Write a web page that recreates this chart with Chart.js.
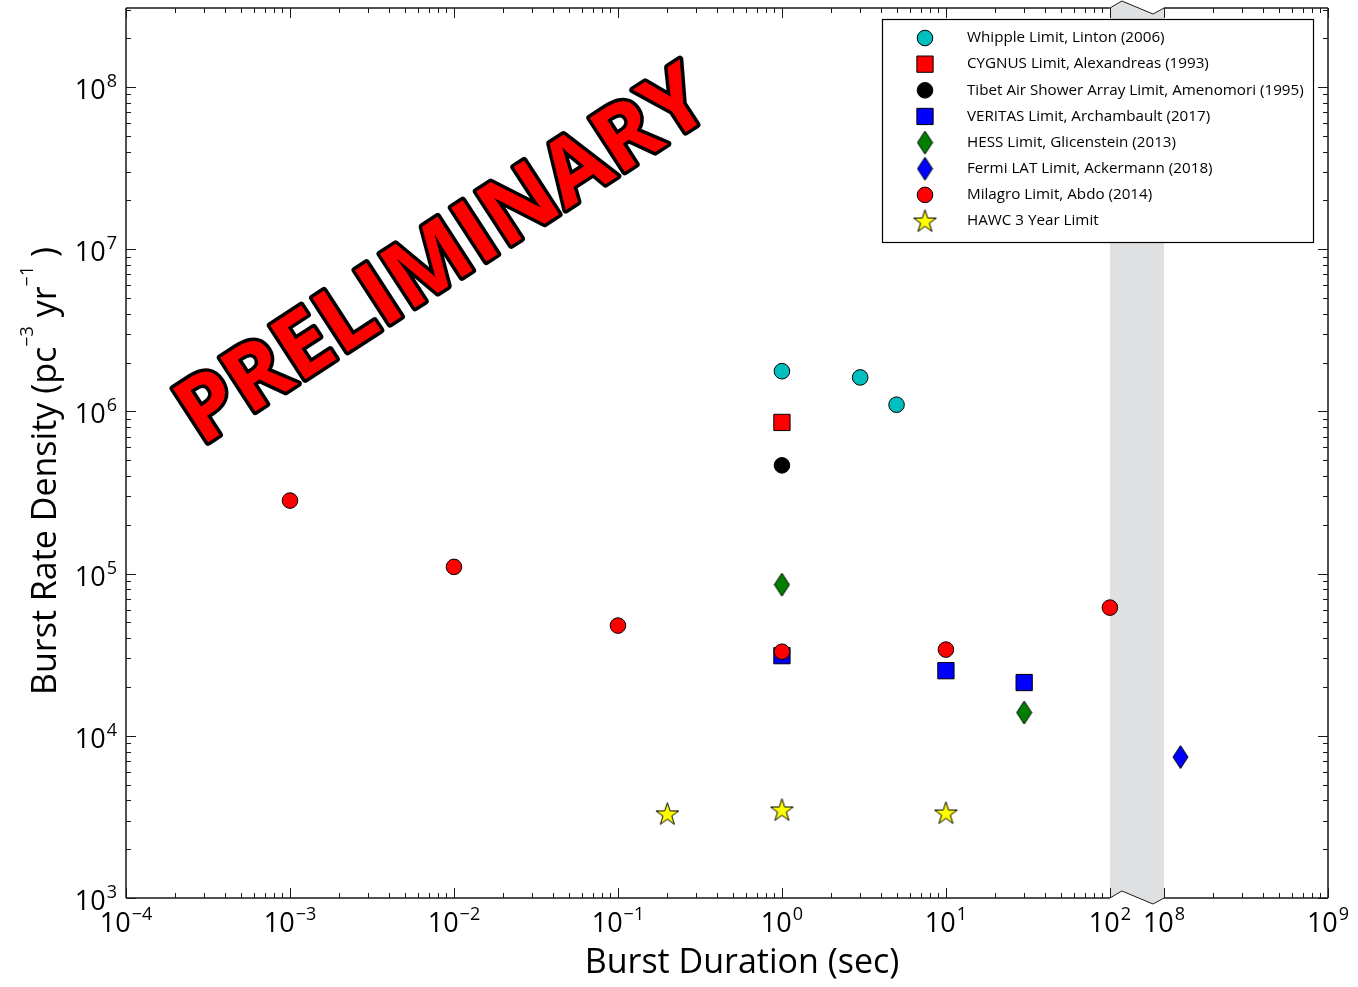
<!DOCTYPE html>
<html>
<head>
<meta charset="utf-8">
<script src="https://cdn.jsdelivr.net/npm/chart.js@4.4.0/dist/chart.umd.min.js"></script>
<style>
  html, body { margin: 0; padding: 0; background: #fff; }
</style>
</head>
<body>
<canvas id="burst-chart" width="1358" height="987"></canvas>
<script>
// values (x = burst duration in s, y = pc^-3 yr^-1)
const whippleX = [1, 3, 5];
const whippleY = [1.77e6, 1.62e6, 1.1e6];
const cygnusX = [1];
const cygnusY = [8.55e5];
const tibetX = [1];
const tibetY = [4.65e5];
const veritasX = [1, 10, 30];
const veritasY = [3.12e4, 2.52e4, 2.13e4];
const hessX = [1, 30];
const hessY = [8.55e4, 1.39e4];
const fermiX = [1.26e8];
const fermiY = [7.4e3];
const milagroX = [1e-3, 1e-2, 1e-1, 1, 10, 100];
const milagroY = [2.82e5, 1.1e5, 4.78e4, 3.3e4, 3.4e4, 6.17e4];
const hawcX = [0.2, 1, 10];
const hawcY = [3.3e3, 3.49e3, 3.34e3];

const seriesNames = [
  "Whipple Limit, Linton (2006)",
  "CYGNUS Limit, Alexandreas (1993)",
  "Tibet Air Shower Array Limit, Amenomori (1995)",
  "VERITAS Limit, Archambault (2017)",
  "HESS Limit, Glicenstein (2013)",
  "Fermi LAT Limit, Ackermann (2018)",
  "Milagro Limit, Abdo (2014)",
  "HAWC 3 Year Limit",
];

const xTickExponents = [-4, -3, -2, -1, 0, 1, 2, 8, 9];
const yTickExponents = [3, 4, 5, 6, 7, 8];

const xMin = 1e-4, xMax = 1e9;
const yMin = 1e3, yMax = 3.07e8;
const breakFrom = 1e2, breakTo = 1e8;
const breakGap = 0.33; // width of the axis break, in decades

const FONT = '"Open Sans", "Noto Sans", sans-serif';

// marker images for the shapes Chart.js doesn't have
function makeDiamond(fill) {
  const c = document.createElement("canvas");
  c.width = 17; c.height = 25;
  const g = c.getContext("2d");
  g.beginPath();
  g.moveTo(8.5, 1); g.lineTo(16, 12.5); g.lineTo(8.5, 24); g.lineTo(1, 12.5);
  g.closePath();
  g.fillStyle = fill; g.fill();
  g.lineWidth = 1; g.strokeStyle = "#000"; g.stroke();
  return c;
}
function makeStar(fill) {
  const c = document.createElement("canvas");
  c.width = 27; c.height = 27;
  const g = c.getContext("2d");
  const R = 12, r = R * 0.382;
  g.beginPath();
  for (let i = 0; i < 10; i++) {
    const a = -Math.PI / 2 + i * Math.PI / 5;
    const rr = i % 2 ? r : R;
    g.lineTo(13.5 + rr * Math.cos(a), 14.2 + rr * Math.sin(a));
  }
  g.closePath();
  g.fillStyle = fill; g.fill();
  g.lineWidth = 1; g.strokeStyle = "#000"; g.lineJoin = "miter"; g.stroke();
  return c;
}

// log axis with a gap between 1e2 and 1e8
class BrokenLogScale extends Chart.Scale {
  determineDataLimits() {
    this.min = this.options.min;
    this.max = this.options.max;
  }
  buildTicks() {
    return xTickExponents.map(e => ({ value: Math.pow(10, e) }));
  }
  getLabelForValue(value) {
    return String(value);
  }
  toUnits(value) {
    const l = Math.log10(value);
    const lo = Math.log10(breakFrom), hi = Math.log10(breakTo);
    if (l <= lo) return l;
    if (l >= hi) return l - (hi - lo) + breakGap;
    return lo + breakGap * (l - lo) / (hi - lo);
  }
  fromUnits(u) {
    const lo = Math.log10(breakFrom), hi = Math.log10(breakTo);
    if (u <= lo) return Math.pow(10, u);
    if (u >= lo + breakGap) return Math.pow(10, u + (hi - lo) - breakGap);
    return Math.pow(10, lo + (u - lo) / breakGap * (hi - lo));
  }
  getPixelForValue(value) {
    const a = this.toUnits(this.min), b = this.toUnits(this.max);
    return this.getPixelForDecimal((this.toUnits(value) - a) / (b - a));
  }
  getPixelForTick(index) {
    return this.getPixelForValue(this.ticks[index].value);
  }
  getValueForPixel(pixel) {
    const a = this.toUnits(this.min), b = this.toUnits(this.max);
    return this.fromUnits(a + this.getDecimalForPixel(pixel) * (b - a));
  }
}
BrokenLogScale.id = "brokenLog";
BrokenLogScale.defaults = {};
Chart.register(BrokenLogScale);

function pts(xs, ys) {
  return xs.map((x, i) => ({ x: x, y: ys[i] }));
}

const circleR = 7.8;
const rectR = 11.5;

const datasets = [
  { label: seriesNames[0], data: pts(whippleX, whippleY), pointStyle: "circle", pointRadius: circleR, backgroundColor: "#00bfbf" },
  { label: seriesNames[1], data: pts(cygnusX, cygnusY), pointStyle: "rect", pointRadius: rectR, backgroundColor: "#ff0000" },
  { label: seriesNames[2], data: pts(tibetX, tibetY), pointStyle: "circle", pointRadius: circleR, backgroundColor: "#000000" },
  { label: seriesNames[3], data: pts(veritasX, veritasY), pointStyle: "rect", pointRadius: rectR, backgroundColor: "#0000ff" },
  { label: seriesNames[4], data: pts(hessX, hessY), pointStyle: makeDiamond("#007f00"), pointRadius: 10, backgroundColor: "#007f00" },
  { label: seriesNames[5], data: pts(fermiX, fermiY), pointStyle: makeDiamond("#0000ff"), pointRadius: 10, backgroundColor: "#0000ff" },
  { label: seriesNames[6], data: pts(milagroX, milagroY), pointStyle: "circle", pointRadius: circleR, backgroundColor: "#ff0000" },
  { label: seriesNames[7], data: pts(hawcX, hawcY), pointStyle: makeStar("#ffff00"), pointRadius: 12, backgroundColor: "#ffff00" },
];
datasets.forEach((ds, i) => {
  ds.borderColor = "#000";
  ds.borderWidth = 1;
  ds.pointHoverRadius = ds.pointRadius;
  ds.order = datasets.length - i; // later series on top, like the original
});

function supText(e) {
  return e < 0 ? "\u2212" + Math.abs(e) : String(e);
}

// "10" with a raised exponent
function drawPower(ctx, exp, x, y, align) {
  ctx.font = "27px " + FONT;
  const wBase = ctx.measureText("10").width;
  ctx.font = "18px " + FONT;
  const s = supText(exp);
  const wSup = ctx.measureText(s).width;
  const total = wBase + wSup + 1;
  let x0 = x;
  if (align === "center") x0 = x - total / 2;
  if (align === "right") x0 = x - total;
  ctx.textAlign = "left";
  ctx.textBaseline = "alphabetic";
  ctx.font = "27px " + FONT;
  ctx.fillText("10", x0, y);
  ctx.font = "18px " + FONT;
  ctx.fillText(s, x0 + wBase + 1, y - 12);
}

function drawRich(ctx, parts, x, y) {
  let total = 0;
  parts.forEach(p => { ctx.font = p.font; p.w = ctx.measureText(p.text).width; total += p.w; });
  let cx = x - total / 2;
  ctx.textAlign = "left";
  ctx.textBaseline = "alphabetic";
  parts.forEach(p => {
    ctx.font = p.font;
    ctx.fillText(p.text, cx, y - (p.rise || 0));
    cx += p.w;
  });
}

function minorValues(exps, maxVal) {
  const out = [];
  for (let i = 0; i < exps.length; i++) {
    const e = exps[i];
    const next = exps[i + 1];
    if (next !== undefined && next !== e + 1) continue;
    for (let k = 2; k <= 9; k++) {
      const v = k * Math.pow(10, e);
      if (v < maxVal) out.push(v);
    }
  }
  return out;
}

const axisFramePlugin = {
  id: "axisFrame",
  beforeDatasetsDraw(chart) {
    const { ctx, chartArea: a, scales } = chart;
    const x1 = scales.x.getPixelForValue(breakFrom);
    const x2 = scales.x.getPixelForValue(breakTo);
    ctx.save();
    ctx.fillStyle = "#dfe0e2";
    ctx.beginPath();
    ctx.moveTo(x1, a.top); ctx.lineTo(x1 + 12, a.top - 7); ctx.lineTo(x2 - 11, a.top + 6); ctx.lineTo(x2, a.top);
    ctx.lineTo(x2, a.bottom); ctx.lineTo(x2 - 11, a.bottom + 6); ctx.lineTo(x1 + 12, a.bottom - 7); ctx.lineTo(x1, a.bottom);
    ctx.closePath();
    ctx.fill();
    ctx.restore();
  },
  afterDraw(chart) {
    const { ctx, chartArea: a, scales } = chart;
    const xs = scales.x, ys = scales.y;
    const x1 = xs.getPixelForValue(breakFrom);
    const x2 = xs.getPixelForValue(breakTo);
    ctx.save();

    // frame with break marks
    ctx.strokeStyle = "#1a1a1a";
    ctx.lineWidth = 1.5;
    ctx.beginPath();
    ctx.moveTo(a.left, a.top); ctx.lineTo(a.left, a.bottom);
    ctx.moveTo(a.right, a.top); ctx.lineTo(a.right, a.bottom);
    [a.top, a.bottom].forEach(yy => {
      ctx.moveTo(a.left, yy); ctx.lineTo(x1, yy);
      ctx.moveTo(x2, yy); ctx.lineTo(a.right, yy);
    });
    ctx.stroke();
    ctx.lineWidth = 1;
    ctx.beginPath();
    [a.top, a.bottom].forEach(yy => {
      ctx.moveTo(x1, yy); ctx.lineTo(x1 + 12, yy - 7); ctx.lineTo(x2 - 11, yy + 6); ctx.lineTo(x2, yy);
    });
    ctx.stroke();

    // inward ticks on all four sides
    ctx.lineWidth = 1;
    ctx.beginPath();
    const xMajor = xs.ticks.map(t => t.value);
    const xMinor = minorValues(xTickExponents, xMax);
    const yMajor = ys.ticks.map(t => t.value);
    const yMinor = minorValues(yTickExponents.concat([9]), yMax);
    [[xMajor, 10], [xMinor, 5]].forEach(([vals, len]) => {
      vals.forEach(v => {
        const px = Math.round(xs.getPixelForValue(v)) + 0.5;
        ctx.moveTo(px, a.bottom); ctx.lineTo(px, a.bottom - len);
        ctx.moveTo(px, a.top); ctx.lineTo(px, a.top + len);
      });
    });
    [[yMajor, 10], [yMinor, 5]].forEach(([vals, len]) => {
      vals.forEach(v => {
        const py = Math.round(ys.getPixelForValue(v)) + 0.5;
        ctx.moveTo(a.left, py); ctx.lineTo(a.left + len, py);
        ctx.moveTo(a.right, py); ctx.lineTo(a.right - len, py);
      });
    });
    ctx.stroke();

    // tick labels
    ctx.fillStyle = "#000";
    xs.ticks.forEach(t => {
      const e = Math.round(Math.log10(t.value));
      drawPower(ctx, e, xs.getPixelForValue(t.value), a.bottom + 34, "center");
    });
    ys.ticks.forEach(t => {
      const e = Math.round(Math.log10(t.value));
      drawPower(ctx, e, a.left - 9, ys.getPixelForValue(t.value) + 12, "right");
    });

    // axis titles
    const titleFont = "34px " + FONT;
    const supFont = "18px " + FONT;
    drawRich(ctx, [{ text: "Burst Duration (sec)", font: titleFont }], 742, 973);
    ctx.save();
    ctx.translate(56, 471);
    ctx.rotate(-Math.PI / 2);
    drawRich(ctx, [
      { text: "Burst Rate Density (pc", font: titleFont },
      { text: "\u22123", font: supFont, rise: 23 },
      { text: " yr", font: titleFont },
      { text: "\u22121", font: supFont, rise: 23 },
      { text: " )", font: titleFont },
    ], 0, 0);
    ctx.restore();

    // legend box
    const lx = 882, ly = 19, lw = 431, lh = 223;
    ctx.fillStyle = "#fff";
    ctx.fillRect(lx, ly, lw, lh);
    ctx.strokeStyle = "#000";
    ctx.lineWidth = 1.2;
    ctx.strokeRect(lx + 0.5, ly + 0.5, lw, lh);
    chart.data.datasets.forEach((ds, i) => {
      const cy = 38 + i * 26.15;
      ctx.fillStyle = ds.backgroundColor;
      ctx.strokeStyle = "#000";
      ctx.lineWidth = 1;
      Chart.helpers.drawPoint(ctx, { pointStyle: ds.pointStyle, radius: ds.pointRadius, borderWidth: 1, rotation: 0 }, 925, cy);
      ctx.fillStyle = "#000";
      ctx.font = "15.2px " + FONT;
      ctx.textAlign = "left";
      ctx.textBaseline = "middle";
      ctx.fillText(ds.label, 967, cy);
    });

    // watermark
    ctx.save();
    ctx.translate(458, 280);
    ctx.rotate(-33 * Math.PI / 180);
    ctx.font = "bold 90px " + FONT;
    ctx.textAlign = "center";
    ctx.textBaseline = "alphabetic";
    ctx.lineJoin = "round";
    ctx.lineWidth = 7;
    ctx.strokeStyle = "#000";
    ctx.strokeText("PRELIMINARY", 0, 0);
    ctx.fillStyle = "#ff0000";
    ctx.fillText("PRELIMINARY", 0, 0);
    ctx.restore();

    ctx.restore();
  }
};

new Chart(document.getElementById("burst-chart"), {
  type: "scatter",
  data: { datasets: datasets },
  options: {
    responsive: false,
    devicePixelRatio: 1,
    animation: false,
    events: [],
    layout: { autoPadding: false, padding: { left: 126, top: 8, right: 30, bottom: 89 } },
    scales: {
      x: { type: "brokenLog", min: xMin, max: xMax, display: false },
      y: {
        type: "logarithmic",
        min: yMin,
        max: yMax,
        display: false,
        afterBuildTicks: (scale) => {
          scale.ticks = yTickExponents.map(e => ({ value: Math.pow(10, e) }));
        },
      },
    },
    plugins: {
      legend: { display: false },
      tooltip: { enabled: false },
    },
  },
  plugins: [axisFramePlugin],
});
</script>
</body>
</html>
